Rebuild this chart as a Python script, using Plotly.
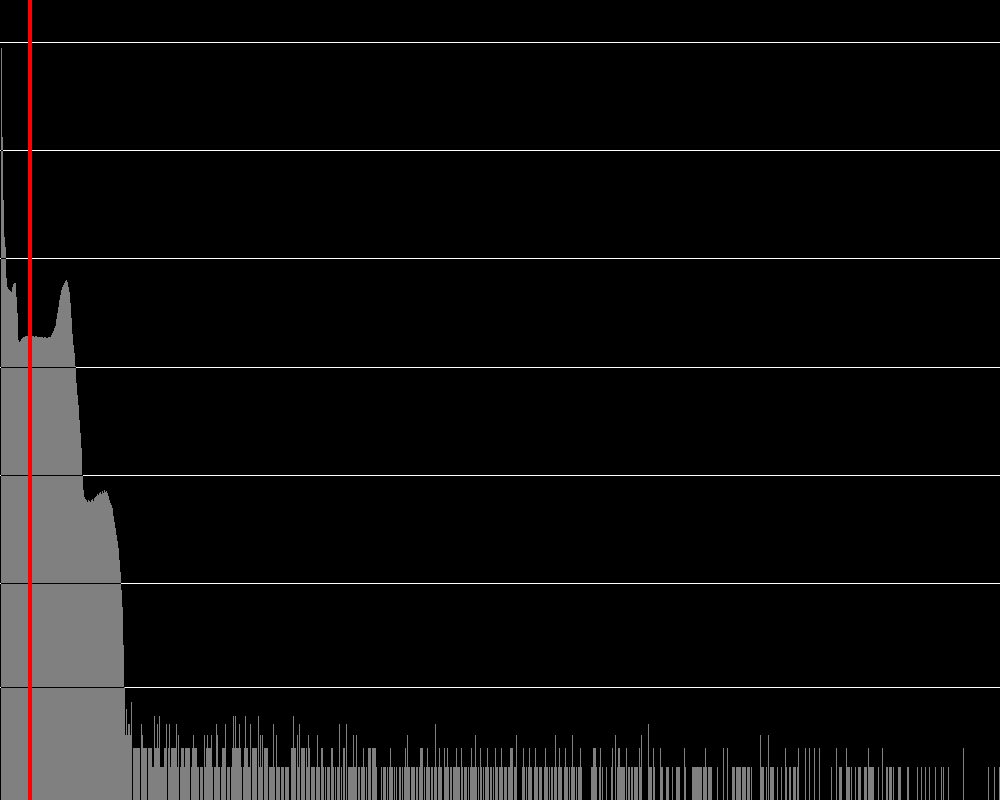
import math
import plotly.graph_objects as go

# ---- data: histogram counts per bin (1000 bins) ----
# main body, bins 0..124
main_counts = [
    0, 8850000, 1330000, 349000, 159000, 128500, 66400, 54800, 52600, 51400,
    50400, 49600, 54800, 58500, 59700, 59700, 44400, 31500, 17800, 17000,
    17400, 18100, 18500, 18900, 19100, 19300, 19300, 19500, 19700, 19600,
    19700, 19500, 19300, 19300, 19100, 19300, 19300, 19100, 18900, 18900,
    19100, 18900, 18900, 18700, 18900, 18900, 18700, 18700, 18900, 18900,
    19100, 19800, 20600, 21500, 23000, 23900, 27800, 31500, 35800, 41600,
    46200, 51400, 54800, 57200, 59700, 62300, 63700, 61000, 54800, 49300,
    39000, 28400, 20200, 16000, 13500, 10200, 7100, 5510, 4455, 3235,
    2455, 1785, 1004, 730, 630, 600, 590, 566, 590, 577,
    566, 590, 603, 577, 616, 629, 642, 670, 657, 685,
    699, 670, 715, 685, 730, 699, 715, 685, 642, 590,
    554, 530, 497, 420, 369, 325, 280, 246, 212, 164,
    127, 86, 60, 26, 10,
]

# sparse tail, one digit per bin (bins 125..349, 350..599, 600..999)
tail_a = (
    "3634437022" "2222204322" "2202222115" "2242511112" "2402412222"
    "2413012221" "2222201232" "2211011103" "1232223101" "1431101222"
    "4011101252" "5222421012" "5221140222" "2205131302" "2220111141"
    "0311101110" "1111002252" "2031402222" "0213201111" "0131102210"
    "1011102210" "1011401022" "04011"
)
tail_b = (
    "1113113011" "0112101022" "2022221000" "0101110101" "2110101001"
    "1010121311" "0111101101" "2220101211" "0110141012" "1100211210"
    "1101112111" "0210111010" "1211131010" "2101011210" "1101021101"
    "1210111011" "2220113000" "0012101012" "1100121101" "1100121101"
    "0110131012" "1100121101" "0131101011" "2100000000" "0112221001"
)
tail_c = (
    "2010001000" "0120030122" "1111102011" "0110111102" "1300000041"
    "1102100000" "2110001110" "0010001111" "0000210000" "0011111111"
    "1101121011" "1100000100" "0002000200" "0011101111" "1011110111"
    "0100000000" "3111001030" "1111000100" "0100021001" "1001110120"
    "0000020002" "0000200002" "0000000000" "0100002001" "1100002111"
    "0100010011" "1000111021" "1111000010" "0020001101" "1101000011"
    "1000000110" "0000000100" "0100010001" "0000010000" "0101000010"
    "0000000000" "0002000000" "0000000000" "0000000010" "0000100001"
)

threshold = 29.5          # red marker position (bin units)
grid_counts = [10, 100, 1000, 10000, 100000, 1000000, 10000000]

counts = main_counts + [int(ch) for ch in tail_a + tail_b + tail_c]
bins = list(range(len(counts)))
# plotted as count + 1 on a log axis (log1p style histogram)
heights = [c + 1 for c in counts]
grid_vals = [g + 1 for g in grid_counts]

H = 800
Y_RANGE = [0, 7.391]


def snap_to_pixel_row(v):
    """Value whose pixel position is the centre of the row the grid line lands on."""
    span = Y_RANGE[1] - Y_RANGE[0]
    px = H - H * (math.log10(v) - Y_RANGE[0]) / span
    px = math.floor(px) + 0.5
    return 10 ** ((H - px) * span / H + Y_RANGE[0])


fig = go.Figure()
fig.add_trace(go.Bar(
    x=bins, y=heights,
    marker=dict(color="#808080", line=dict(width=0)),
    hoverinfo="skip",
))

# gridlines show dark where they pass over the bars
for gv in grid_vals:
    gy = snap_to_pixel_row(gv)
    xs, ys = [], []
    run_start = None
    for i, h in enumerate(heights + [0]):
        if h > gv and run_start is None:
            run_start = i
        elif h <= gv and run_start is not None:
            xs += [run_start - 0.5, i - 0.5, None]
            ys += [gy, gy, None]
            run_start = None
    if xs:
        fig.add_trace(go.Scatter(
            x=xs, y=ys, mode="lines",
            line=dict(color="#000000", width=1),
            hoverinfo="skip", showlegend=False,
        ))

fig.add_vline(x=threshold, line=dict(color="#ff0000", width=4))

fig.update_layout(
    width=1000, height=H,
    margin=dict(l=0, r=0, t=0, b=0),
    paper_bgcolor="#000000", plot_bgcolor="#000000",
    bargap=0, showlegend=False,
    xaxis=dict(range=[-0.5, len(counts) - 0.5], showgrid=False, zeroline=False,
               showticklabels=False, ticks="", showline=False),
    yaxis=dict(type="log", range=Y_RANGE, tickvals=grid_vals,
               showticklabels=False, ticks="", gridcolor="#ffffff", gridwidth=1,
               zeroline=False, showline=False),
)

fig.write_html("out.html")
